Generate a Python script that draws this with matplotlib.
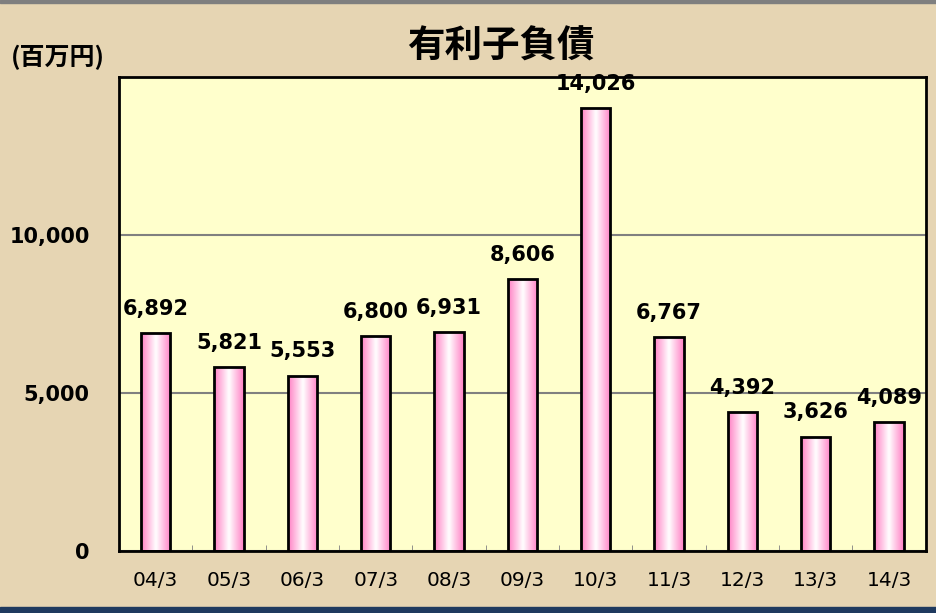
import numpy as np
import matplotlib.pyplot as plt
from matplotlib.patches import Rectangle
from matplotlib.colors import LinearSegmentedColormap

plt.rcParams['font.family'] = ['DejaVu Sans', 'Noto Sans CJK JP']

# data
periods = ['04/3', '05/3', '06/3', '07/3', '08/3', '09/3', '10/3', '11/3', '12/3', '13/3', '14/3']
debt = [6892, 5821, 5553, 6800, 6931, 8606, 14026, 6767, 4392, 3626, 4089]
title = '有利子負債'
unit = '(百万円)'

cjk = ['Noto Sans CJK JP', 'DejaVu Sans']

fig = plt.figure(figsize=(9.37, 6.13), dpi=100)
fig.patch.set_facecolor('#E6D5B3')

# frame lines of the slide
fig.patches.append(Rectangle((0, 0.995), 1, 0.005, transform=fig.transFigure, color='#7F7F7F', zorder=5))
fig.patches.append(Rectangle((0, 0), 1, 0.010, transform=fig.transFigure, color='#1F3A5F', zorder=5))

ax = fig.add_axes([0.127, 0.101, 0.861, 0.773])
ax.set_facecolor('#FFFFCC')
ax.set_xlim(-0.5, len(periods) - 0.5)
ax.set_ylim(0, 15000)

x = np.arange(len(periods))
bars = ax.bar(x, debt, width=0.4, facecolor='none', edgecolor='black', linewidth=2, zorder=3)

# horizontal pink -> white -> pink gradient inside each bar
cmap = LinearSegmentedColormap.from_list('pk', ['#FF7FC4', '#FFFFFF', '#FF7FC4'])
grad = np.linspace(0, 1, 256).reshape(1, -1)
for b in bars:
    bx, by, bw, bh = b.get_x(), b.get_y(), b.get_width(), b.get_height()
    im = ax.imshow(grad, cmap=cmap, aspect='auto', extent=(bx, bx + bw, by, by + bh),
                   zorder=2, interpolation='bicubic')
    im.set_clip_path(b)

for xi, v in zip(x, debt):
    ax.text(xi, v + 450, f'{v:,}', ha='center', va='bottom', fontsize=15,
            fontweight='bold', color='black', zorder=4)

ax.set_yticks([0, 5000, 10000])
ax.set_yticklabels(['0', '5,000', '10,000'], fontsize=15, fontweight='bold')
ax.yaxis.grid(True, color='#808080', linewidth=1.5, zorder=1)
ax.set_axisbelow(True)
ax.tick_params(axis='y', length=0, pad=21)

ax.set_xticks(x)
ax.set_xticklabels(periods, fontsize=14.5)
ax.set_xticks(x[:-1] + 0.5, minor=True)
ax.tick_params(axis='x', which='major', length=0, pad=14)
ax.tick_params(axis='x', which='minor', direction='in', length=4, color='#808080')

for s in ax.spines.values():
    s.set_linewidth(2)
    s.set_color('black')

fig.text(0.534, 0.925, title, ha='center', va='center', fontsize=27, fontweight='bold', family=cjk)
fig.text(0.012, 0.907, unit, ha='left', va='center', fontsize=18, fontweight='bold', family=cjk)

plt.savefig('out.png', dpi=100, facecolor=fig.get_facecolor())
